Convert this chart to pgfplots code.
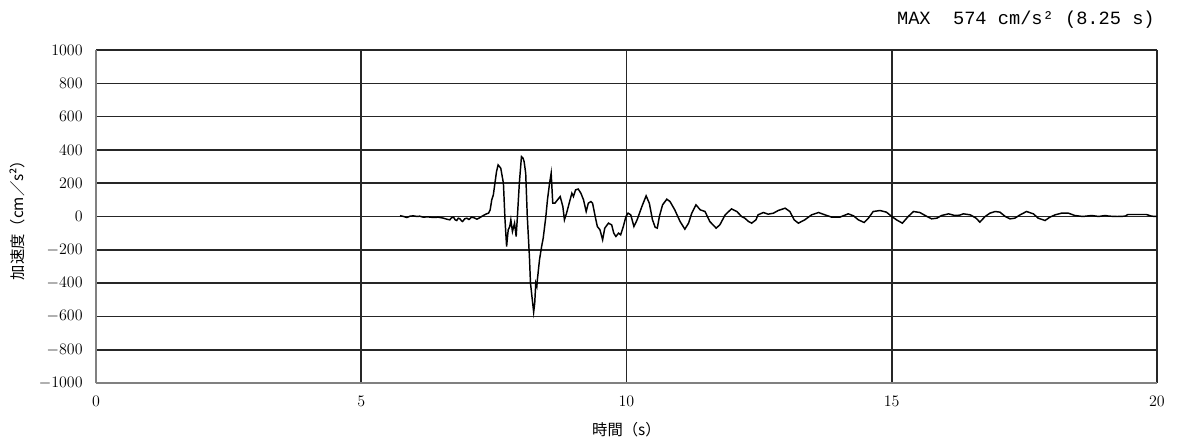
\documentclass[border=0pt]{standalone}
\usepackage{fontspec}
\usepackage{pgfplots}
\pgfplotsset{compat=1.18}
\newfontfamily\cjk{Noto Sans CJK JP}
\newfontfamily\monof{Liberation Mono}
\begin{document}
\begin{tikzpicture}[x=1pt,y=1pt]
\path[use as bounding box] (-72,-45.75) rectangle (815.25,287.25);
\begin{axis}[
  name=ax, at={(0,0)}, anchor=south west,
  scale only axis, width=795.75pt, height=249.75pt,
  xmin=0, xmax=20, ymin=-1000, ymax=1000,
  axis x line*=bottom, axis y line*=left,
  xtick={0,5,10,15,20}, ytick={-1000,-800,...,1000},
  /pgf/number format/1000 sep={},
  grid=major, major grid style={black!85,line width=1.2pt},
  axis line style={-, black!50, line width=1.2pt},
  major tick length=0pt,
  tick label style={font=\fontsize{12}{14}\selectfont},
  yticklabel style={xshift=-6.5pt},
  xticklabel style={yshift=-6pt},
  xlabel={\cjk 時間（s）},
  xlabel style={at={(axis description cs:0.5,0)}, anchor=center, yshift=-35pt, font=\fontsize{11.5}{13}\selectfont},
  ylabel={\cjk 加速度（cm／s²）},
  ylabel style={at={(axis description cs:-0.0741,0.5)}, anchor=center, font=\fontsize{11.5}{13}\selectfont},
]
\addplot[black, line width=1.1pt] coordinates {
(5.73,5) (5.80,0) (5.86,-6) (5.92,2) (5.98,4) (6.05,0) (6.10,2) (6.17,-4) (6.25,-2) (6.36,-6)
(6.45,-4) (6.55,-10) (6.61,-16) (6.67,-20) (6.70,-8) (6.74,-4) (6.77,-20) (6.80,-24) (6.83,-10)
(6.86,-14) (6.89,-26) (6.91,-30) (6.95,-14) (6.99,-10) (7.03,-18) (7.08,-4) (7.13,-8) (7.18,-16)
(7.24,-6) (7.30,6) (7.36,16) (7.40,20) (7.43,40) (7.46,100) (7.49,130) (7.52,200) (7.55,270)
(7.58,310) (7.63,290) (7.68,200) (7.71,-20) (7.74,-180) (7.77,-80) (7.80,-60) (7.82,-20) (7.85,-90)
(7.89,-40) (7.92,-120) (7.94,-20) (7.98,200) (8.02,360) (8.05,350) (8.07,330) (8.10,260) (8.13,0)
(8.17,-240) (8.19,-400) (8.25,-574) (8.27,-520) (8.29,-400) (8.31,-420) (8.32,-380) (8.36,-260)
(8.40,-180) (8.43,-130) (8.48,0) (8.51,100) (8.55,200) (8.58,260) (8.61,80) (8.65,80) (8.70,100)
(8.75,120) (8.80,60) (8.83,-20) (8.87,20) (8.92,80) (8.97,140) (9.00,120) (9.04,160) (9.09,165)
(9.14,140) (9.19,100) (9.24,30) (9.28,80) (9.33,90) (9.36,80) (9.41,0) (9.45,-60) (9.50,-80)
(9.55,-140) (9.59,-70) (9.66,-40) (9.72,-50) (9.76,-100) (9.80,-120) (9.85,-100) (9.89,-110)
(9.94,-60) (9.99,0) (10.03,20) (10.08,10) (10.14,-60) (10.20,-20) (10.29,60) (10.37,124) (10.43,80)
(10.49,-20) (10.54,-64) (10.58,-70) (10.62,0) (10.68,70) (10.76,104) (10.82,90) (10.91,40)
(11.01,-30) (11.10,-76) (11.17,-40) (11.23,20) (11.31,70) (11.39,40) (11.48,30) (11.57,-30)
(11.69,-70) (11.76,-50) (11.86,10) (11.98,46) (12.08,30) (12.17,0) (12.23,-10) (12.30,-30)
(12.36,-40) (12.44,-20) (12.48,10) (12.58,24) (12.67,14) (12.77,20) (12.86,36) (12.99,50)
(13.08,30) (13.16,-20) (13.24,-40) (13.36,-20) (13.49,10) (13.62,24) (13.74,10) (13.87,-4)
(14.02,-4) (14.18,16) (14.28,4) (14.37,-20) (14.48,-36) (14.56,-10) (14.65,30) (14.78,36)
(14.90,26) (15.00,0) (15.09,-20) (15.20,-40) (15.31,0) (15.41,30) (15.53,24) (15.63,6)
(15.75,-14) (15.85,-10) (15.94,6) (16.07,16) (16.19,6) (16.28,8) (16.35,16) (16.48,10)
(16.59,-10) (16.66,-34) (16.76,0) (16.85,20) (16.95,30) (17.04,26) (17.14,0) (17.23,-14)
(17.32,-10) (17.42,10) (17.54,30) (17.67,16) (17.76,-10) (17.89,-24) (17.98,-4) (18.08,10)
(18.20,20) (18.33,20) (18.45,6) (18.60,0) (18.77,6) (18.90,0) (19.02,6) (19.10,2) (19.25,0)
(19.40,2) (19.45,12) (19.80,12) (19.90,2) (20.00,0)
};
\end{axis}
\node[anchor=east, inner sep=0pt, font=\monof\fontsize{14}{16}\selectfont] at ([yshift=22.5pt,xshift=-1.5pt]ax.north east) {MAX\ \ 574 cm/s² (8.25 s)};
\end{tikzpicture}
\end{document}
